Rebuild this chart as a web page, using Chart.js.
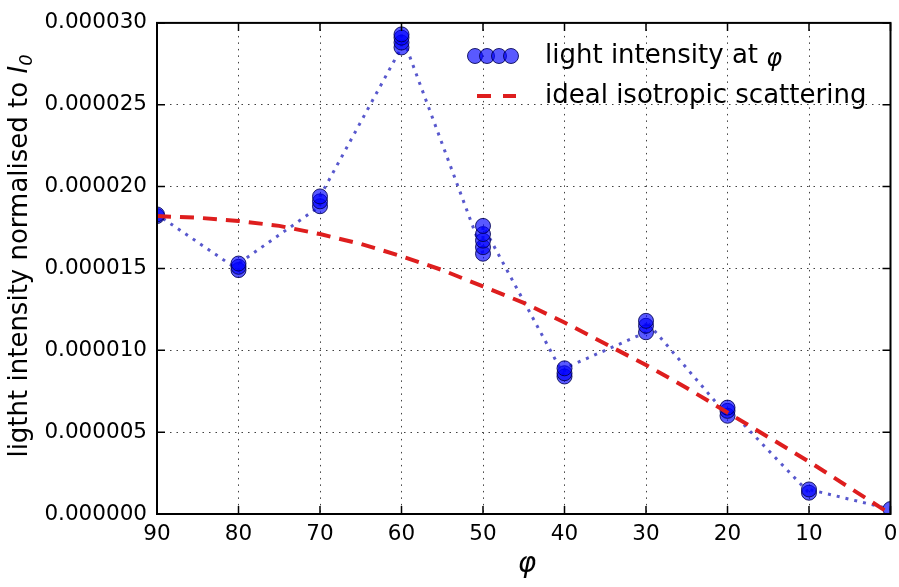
<!DOCTYPE html>
<html>
<head>
<meta charset="utf-8">
<title>Light intensity vs angle</title>
<script src="https://cdn.jsdelivr.net/npm/chart.js@4.4.1/dist/chart.umd.min.js"></script>
<style>
  html, body { margin: 0; padding: 0; background: #fff; }
  #plot { display: block; }
</style>
</head>
<body>
<canvas id="plot" width="899" height="587"></canvas>
<script>
// measured intensity, several readings at each angle
const angles = [90, 80, 70, 60, 50, 40, 30, 20, 10, 0]
const readings = [
  [1.82e-5, 1.83e-5],
  [1.49e-5, 1.51e-5, 1.53e-5],
  [1.88e-5, 1.91e-5, 1.94e-5],
  [2.85e-5, 2.88e-5, 2.91e-5, 2.93e-5],
  [1.59e-5, 1.63e-5, 1.67e-5, 1.71e-5, 1.76e-5],
  [0.84e-5, 0.86e-5, 0.89e-5],
  [1.11e-5, 1.15e-5, 1.18e-5],
  [0.60e-5, 0.63e-5, 0.65e-5],
  [0.13e-5, 0.15e-5],
  [0.03e-5],
]

// ideal isotropic scattering curve
const isoAngles = [90, 85, 80, 75, 70, 65, 60, 55, 50, 45, 40, 35, 30, 25, 20, 15, 10, 5, 0]
const isoValues = [1.82e-5, 1.81e-5, 1.79e-5, 1.76e-5, 1.71e-5, 1.65e-5, 1.575e-5, 1.49e-5, 1.39e-5,
  1.29e-5, 1.17e-5, 1.04e-5, 0.91e-5, 0.77e-5, 0.62e-5, 0.47e-5, 0.32e-5, 0.16e-5, 0.0]

const xTicks = [90, 80, 70, 60, 50, 40, 30, 20, 10, 0]
const yTicks = [0, 0.000005, 0.00001, 0.000015, 0.00002, 0.000025, 0.00003]

const seriesNames = ["light intensity at ", "ideal isotropic scattering"]

const FONT = "'DejaVu Sans', sans-serif"
const BLUE_FILL = "rgba(0, 0, 255, 0.65)"
const BLUE_EDGE = "rgba(0, 0, 80, 0.85)"
const BLUE_LINE = "rgba(70, 70, 200, 0.9)"
const RED = "rgb(222, 30, 30)"

const measuredPoints = []
angles.forEach((a, i) => {
  readings[i].forEach((v) => measuredPoints.push({ x: a, y: v }))
})
const isoPoints = isoAngles.map((a, i) => ({ x: a, y: isoValues[i] }))

// frame, inward ticks, legend and axis titles
const decorations = {
  id: "decorations",
  afterDraw(chart) {
    const ctx = chart.ctx
    const { left, right, top, bottom } = chart.chartArea
    const xs = chart.scales.x
    const ys = chart.scales.y
    ctx.save()
    ctx.setLineDash([])
    ctx.strokeStyle = "#000"

    // inward tick marks on all four sides
    ctx.lineWidth = 1.5
    const tl = 8
    xTicks.forEach((t) => {
      const px = xs.getPixelForValue(t)
      ctx.beginPath()
      ctx.moveTo(px, bottom); ctx.lineTo(px, bottom - tl)
      ctx.moveTo(px, top); ctx.lineTo(px, top + tl)
      ctx.stroke()
    })
    yTicks.forEach((t) => {
      const py = ys.getPixelForValue(t)
      ctx.beginPath()
      ctx.moveTo(left, py); ctx.lineTo(left + tl, py)
      ctx.moveTo(right, py); ctx.lineTo(right - tl, py)
      ctx.stroke()
    })

    // frame
    ctx.lineWidth = 2
    ctx.strokeRect(left, top, right - left, bottom - top)

    // legend
    const lx = 475
    ctx.fillStyle = BLUE_FILL
    ctx.strokeStyle = BLUE_EDGE
    ctx.lineWidth = 1
    for (let k = 0; k < 4; k++) {
      ctx.beginPath()
      ctx.arc(lx + k * 12, 56, 7.5, 0, Math.PI * 2)
      ctx.fill()
      ctx.stroke()
    }
    ctx.strokeStyle = RED
    ctx.lineWidth = 4
    ctx.beginPath()
    ctx.moveTo(477, 96); ctx.lineTo(491, 96)
    ctx.moveTo(503, 96); ctx.lineTo(516, 96)
    ctx.stroke()

    ctx.fillStyle = "#000"
    ctx.font = "26px " + FONT
    ctx.textBaseline = "middle"
    ctx.textAlign = "left"
    ctx.fillText(seriesNames[0], 545, 56)
    const w0 = ctx.measureText(seriesNames[0]).width
    ctx.font = "italic 24px " + FONT
    ctx.fillText("\u03c6", 545 + w0, 60)
    ctx.font = "26px " + FONT
    ctx.fillText(seriesNames[1], 545, 96)

    // x title
    ctx.font = "italic 28px " + FONT
    ctx.textAlign = "center"
    ctx.fillText("\u03c6", 527, 565)

    // y title, rotated
    ctx.translate(20, 256)
    ctx.rotate(-Math.PI / 2)
    const main = "ligtht intensity normalised to "
    ctx.font = "26px " + FONT
    const wm = ctx.measureText(main).width
    ctx.font = "italic 26px " + FONT
    const wi = ctx.measureText("I").width
    ctx.font = "italic 18px " + FONT
    const ws = ctx.measureText("0").width
    const x0 = -(wm + wi + ws) / 2
    ctx.textAlign = "left"
    ctx.font = "26px " + FONT
    ctx.fillText(main, x0, 0)
    ctx.font = "italic 26px " + FONT
    ctx.fillText("I", x0 + wm, 0)
    ctx.font = "italic 18px " + FONT
    ctx.fillText("0", x0 + wm + wi, 7)
    ctx.restore()
  },
}

new Chart(document.getElementById("plot").getContext("2d"), {
  type: "line",
  data: {
    datasets: [
      {
        label: seriesNames[1],
        data: isoPoints,
        borderColor: RED,
        borderWidth: 4,
        borderDash: [14, 9],
        pointRadius: 0,
        fill: false,
        order: 0,
      },
      {
        label: seriesNames[0],
        data: measuredPoints,
        borderColor: BLUE_LINE,
        borderWidth: 3,
        borderDash: [3, 6],
        pointRadius: 7.5,
        pointBackgroundColor: BLUE_FILL,
        pointBorderColor: BLUE_EDGE,
        pointBorderWidth: 1,
        fill: false,
        order: 1,
      },
    ],
  },
  options: {
    responsive: false,
    devicePixelRatio: 1,
    animation: false,
    layout: { padding: { top: 22, right: 6, left: 0, bottom: 0 } },
    plugins: { legend: { display: false }, tooltip: { enabled: false } },
    scales: {
      x: {
        type: "linear",
        reverse: true,
        min: 0,
        max: 90,
        afterFit: (scale) => {
          scale.height = 73
          // let the end labels run past the plot edge
          scale.paddingLeft = 0
          scale.paddingRight = 0
        },
        afterBuildTicks: (scale) => { scale.ticks = xTicks.map((v) => ({ value: v })) },
        ticks: { color: "#000", font: { family: FONT, size: 21.5 }, padding: 8, maxRotation: 0 },
        grid: { color: "rgba(0,0,0,0.75)", lineWidth: 1, drawTicks: false },
        border: { display: false, dash: [1.5, 5] },
      },
      y: {
        min: 0,
        max: 0.00003,
        afterFit: (scale) => { scale.width = 157 },
        afterBuildTicks: (scale) => { scale.ticks = yTicks.map((v) => ({ value: v })) },
        ticks: {
          color: "#000",
          font: { family: FONT, size: 21.5 },
          padding: 10,
          callback: (v) => Number(v).toFixed(6),
        },
        grid: { color: "rgba(0,0,0,0.75)", lineWidth: 1, drawTicks: false },
        border: { display: false, dash: [1.5, 5] },
      },
    },
  },
  plugins: [decorations],
})
</script>
</body>
</html>
